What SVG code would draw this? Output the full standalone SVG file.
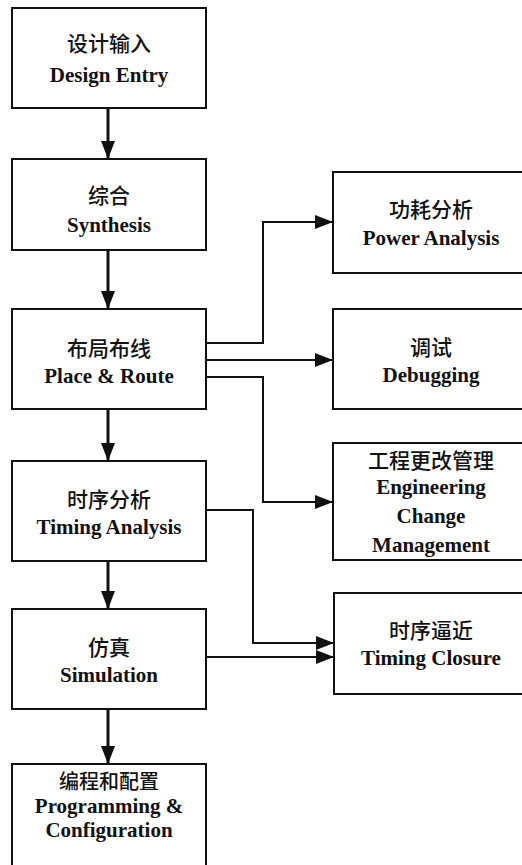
<svg xmlns="http://www.w3.org/2000/svg" width="522" height="865" viewBox="0 0 522 865">
<style>
.box{fill:#fff;stroke:#111;stroke-width:2}
.zh{font-family:"Noto Sans CJK SC","Noto Sans CJK TC",sans-serif;font-size:21px;font-weight:500;fill:#111;text-anchor:middle}
.en{font-family:"Liberation Serif","Times New Roman","DejaVu Serif",serif;font-size:21px;font-weight:bold;fill:#111;text-anchor:middle}
.main{fill:none;stroke:#111;stroke-width:3}
.side{fill:none;stroke:#111;stroke-width:2}
</style>
<defs>
<marker id="ah" markerUnits="userSpaceOnUse" markerWidth="20" markerHeight="16" refX="18" refY="7" orient="auto">
<path d="M0,0 L18,7 L0,14 Z" fill="#111"/>
</marker>
</defs>
<rect width="522" height="865" fill="#fff"/>
<g id="connectors">
<line class="main" x1="108" y1="108" x2="108" y2="159" marker-end="url(#ah)"/>
<line class="main" x1="108" y1="250" x2="108" y2="309" marker-end="url(#ah)"/>
<line class="main" x1="108" y1="409" x2="108" y2="461" marker-end="url(#ah)"/>
<line class="main" x1="108" y1="561" x2="108" y2="609" marker-end="url(#ah)"/>
<line class="main" x1="108" y1="709" x2="108" y2="764" marker-end="url(#ah)"/>
<polyline class="side" points="206,343 263,343 263,222 333,222" marker-end="url(#ah)"/>
<polyline class="side" points="206,360 333,360" marker-end="url(#ah)"/>
<polyline class="side" points="206,377 263,377 263,502 333,502" marker-end="url(#ah)"/>
<polyline class="side" points="206,510 253,510 253,643 334,643" marker-end="url(#ah)"/>
<polyline class="side" points="206,657 334,657" marker-end="url(#ah)"/>
</g>
<g id="design-entry">
<rect class="box" x="12" y="8" width="194" height="100"/>
<text class="zh" x="109" y="51">设计输入</text>
<text class="en" x="109" y="82">Design Entry</text>
</g>
<g id="synthesis">
<rect class="box" x="12" y="159" width="194" height="91"/>
<text class="zh" x="109" y="203">综合</text>
<text class="en" x="109" y="232">Synthesis</text>
</g>
<g id="place-route">
<rect class="box" x="12" y="309" width="194" height="100"/>
<text class="zh" x="109" y="356">布局布线</text>
<text class="en" x="109" y="383">Place &amp; Route</text>
</g>
<g id="timing-analysis">
<rect class="box" x="12" y="461" width="194" height="100"/>
<text class="zh" x="109" y="507">时序分析</text>
<text class="en" x="109" y="534">Timing Analysis</text>
</g>
<g id="simulation">
<rect class="box" x="12" y="609" width="194" height="100"/>
<text class="zh" x="109" y="655">仿真</text>
<text class="en" x="109" y="682">Simulation</text>
</g>
<g id="programming">
<rect class="box" x="12" y="764" width="194" height="110"/>
<text class="zh" x="109" y="789" style="font-size:20px">编程和配置</text>
<text class="en" x="109" y="813">Programming &amp;</text>
<text class="en" x="109" y="837">Configuration</text>
</g>
<g id="power-analysis">
<rect class="box" x="333" y="172" width="196" height="101"/>
<text class="zh" x="431" y="217">功耗分析</text>
<text class="en" x="431" y="245">Power Analysis</text>
</g>
<g id="debugging">
<rect class="box" x="333" y="309" width="196" height="100"/>
<text class="zh" x="431" y="355">调试</text>
<text class="en" x="431" y="382">Debugging</text>
</g>
<g id="ecm">
<rect class="box" x="333" y="443" width="196" height="117"/>
<text class="zh" x="431" y="468">工程更改管理</text>
<text class="en" x="431" y="494">Engineering</text>
<text class="en" x="431" y="523">Change</text>
<text class="en" x="431" y="552">Management</text>
</g>
<g id="timing-closure">
<rect class="box" x="334" y="593" width="195" height="101"/>
<text class="zh" x="431" y="638">时序逼近</text>
<text class="en" x="431" y="665">Timing Closure</text>
</g>
</svg>
